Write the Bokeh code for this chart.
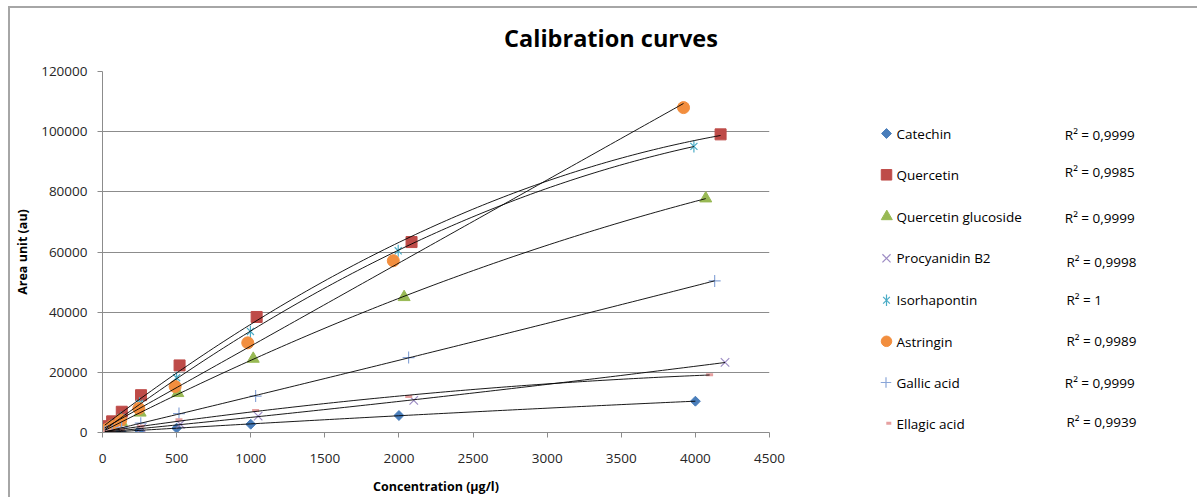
import numpy as np
from bokeh.plotting import figure
from bokeh.layouts import row, column
from bokeh.models import (Range1d, SingleIntervalTicker, BasicTickFormatter)
from bokeh.core.properties import value
from bokeh.embed import file_html
from bokeh.resources import INLINE

# ---------------- data ----------------
title_text = "Calibration curves"
names = ["Catechin", "Quercetin", "Quercetin glucoside", "Procyanidin B2",
         "Isorhapontin", "Astringin", "Gallic acid", "Ellagic acid"]
r2_texts = ["R² = 0,9999", "R² = 0,9985", "R² = 0,9999", "R² = 0,9998",
            "R² = 1", "R² = 0,9989", "R² = 0,9999", "R² = 0,9939"]

catechin_x = [31, 62, 125, 250, 500, 1000, 2000, 4000]
catechin_y = [90, 170, 340, 680, 1450, 2750, 5650, 10400]

quercetin_x = [16, 33, 65, 130, 260, 520, 1040, 2085, 4170]
quercetin_y = [1300, 2100, 3700, 6900, 12400, 22300, 38400, 63300, 99100]

qglucoside_x = [16, 32, 64, 127, 254, 508, 1017, 2035, 4070]
qglucoside_y = [500, 1000, 1900, 3500, 6600, 13100, 24500, 45000, 77800]

procyanidin_x = [16, 33, 66, 131, 263, 525, 1050, 2100, 4200]
procyanidin_y = [80, 170, 340, 680, 1350, 2750, 5450, 10700, 23300]

isorhapontin_x = [16, 31, 62, 125, 250, 500, 998, 1995, 3990]
isorhapontin_y = [700, 1300, 2500, 5000, 9700, 18200, 33600, 60400, 95100]

astringin_x = [15, 31, 61, 123, 245, 490, 980, 1962, 3920]
astringin_y = [600, 1100, 2100, 4100, 8000, 15300, 29800, 57100, 108000]

gallic_x = [16, 32, 65, 129, 258, 516, 1033, 2065, 4130]
gallic_y = [200, 400, 800, 1600, 3100, 6300, 12100, 24900, 50400]

ellagic_x = [16, 32, 64, 129, 258, 516, 1033, 2066, 4096]
ellagic_y = [150, 300, 550, 1100, 2100, 4200, 7300, 12000, 19200]

x_ticks_interval = 500
y_ticks_interval = 20000

# ---------------- styles ----------------
FONT = "Open Sans"
markers = ["square", "square", "triangle", "x", "x", "circle", "cross", "dash"]
angles = [np.pi / 4, 0, 0, 0, 0, 0, 0, 0]
colors = ["#4a7ebb", "#be4b48", "#98b954", "#9d8cc4", "#4bacc6", "#f28e3e", "#8aa6d8", "#e6a0a0"]
filled = [True, True, True, False, False, True, False, False]
plot_sizes = [7, 11, 12, 12, 10, 12, 12, 7]
legend_sizes = [7, 10.5, 11, 11.5, 9.5, 10.5, 10.5, 5]
line_widths = [1, 1, 1, 1.2, 1.2, 1, 1.2, 3]
fit_degree = [2, 2, 2, 2, 2, 1, 2, 2]

series_x = [catechin_x, quercetin_x, qglucoside_x, procyanidin_x,
            isorhapontin_x, astringin_x, gallic_x, ellagic_x]
series_y = [catechin_y, quercetin_y, qglucoside_y, procyanidin_y,
            isorhapontin_y, astringin_y, gallic_y, ellagic_y]

# ---------------- geometry (window pixels) ----------------
OX, OY = 10, 8                          # canvas origin (margin + border)
WIN_W, WIN_H = 1197, 497
SPLIT = 800                             # where the legend panel starts
TITLE_B = 61                            # bottom of the title strip
FL, FR, FT, FB = 102, 769, 71, 433      # plot frame edges
XMAX, YMAX = 4500, 120000


def blank(width, height, x0, x1, y0, y1):
    f = figure(width=width, height=height, output_backend="svg", toolbar_location=None,
               x_range=Range1d(x0, x1), y_range=Range1d(y1, y0),
               x_axis_location=None, y_axis_location=None,
               min_border=0, min_border_left=0, min_border_right=0,
               min_border_top=0, min_border_bottom=0)
    f.frame_align = False
    f.outline_line_color = None
    f.xgrid.grid_line_color = None
    f.ygrid.grid_line_color = None
    f.background_fill_color = "white"
    f.border_fill_color = "white"
    return f


# title strip
t = blank(SPLIT - OX, TITLE_B - OY, OX, SPLIT, OY, TITLE_B)
t.text(x=[610.5], y=[37], text=[title_text], text_font=value(FONT),
       text_font_size=value("23.5px"), text_font_style="bold", text_color="#000000",
       text_align="center", text_baseline="middle")

# main plot
p = figure(width=SPLIT - OX, height=WIN_H - TITLE_B, output_backend="svg", toolbar_location=None,
           x_range=Range1d(0, XMAX), y_range=Range1d(0, YMAX),
           min_border_left=FL - OX, min_border_right=SPLIT - FR,
           min_border_top=FT - TITLE_B, min_border_bottom=WIN_H - FB)
p.frame_align = False
p.outline_line_color = None
p.background_fill_color = "white"
p.border_fill_color = "white"

p.xgrid.grid_line_color = None
p.ygrid.grid_line_color = "#8c8c8c"
p.ygrid.grid_line_width = 1

for ax in (p.xaxis[0], p.yaxis[0]):
    ax.axis_line_color = "#8c8c8c"
    ax.major_tick_line_color = "#8c8c8c"
    ax.major_tick_out = 5
    ax.major_tick_in = 0
    ax.minor_tick_line_color = None
    ax.major_label_text_font = FONT
    ax.major_label_text_font_size = "13.5px"
    ax.major_label_text_color = "#262626"
    ax.axis_label_text_font = FONT
    ax.axis_label_text_font_size = "12.5px"
    ax.axis_label_text_font_style = "bold"
    ax.axis_label_text_color = "#000000"
    ax.formatter = BasicTickFormatter(use_scientific=False)

p.xaxis[0].ticker = SingleIntervalTicker(interval=x_ticks_interval)
p.yaxis[0].ticker = SingleIntervalTicker(interval=y_ticks_interval)
p.xaxis[0].axis_label = "Concentration (µg/l)"
p.yaxis[0].axis_label = "Area unit (au)"
p.xaxis[0].major_label_standoff = 16
p.xaxis[0].axis_label_standoff = 12
p.yaxis[0].major_label_standoff = 10
p.yaxis[0].axis_label_standoff = 7


def draw_marker(fig, x, y, i, size):
    kw = dict(marker=markers[i], angle=angles[i], size=size,
              line_color=colors[i], line_width=line_widths[i])
    kw["fill_color"] = colors[i] if filled[i] else None
    fig.scatter(x, y, **kw)
    if names[i] == "Isorhapontin":      # Excel "star": an x with a vertical stroke
        fig.scatter(x, y, marker="dash", angle=np.pi / 2, size=size * 1.2,
                    line_color=colors[i], line_width=line_widths[i])


for i in range(len(names)):
    draw_marker(p, series_x[i], series_y[i], i, plot_sizes[i])

# trendlines (least-squares fits, like Excel trendlines)
for i in range(len(names)):
    coef = np.polyfit(series_x[i], series_y[i], fit_degree[i])
    xs = np.linspace(min(series_x[i]), max(series_x[i]), 120)
    p.line(xs, np.polyval(coef, xs), line_color="#000000", line_width=1, line_alpha=0.9)

# legend panel (pixel space)
q = blank(WIN_W - SPLIT, WIN_H - OY, SPLIT, WIN_W, OY, WIN_H)

mark_x = [886, 886, 886.3, 886, 886, 886, 885.5, 888.3]
mark_y = [133.0, 174.3, 216.0, 257.8, 299.7, 340.8, 382.0, 422.7]
name_x = 896
name_mid = [133.8, 174.7, 216.5, 257.8, 299.7, 341.0, 382.7, 423.7]
r2_x = [1064.3, 1064.3, 1064.3, 1066, 1066, 1066, 1064.3, 1066]
r2_mid = [134.3, 171.0, 217.2, 261.2, 299.7, 340.2, 382.2, 421.5]

for i in range(len(names)):
    draw_marker(q, [mark_x[i]], [mark_y[i]], i, legend_sizes[i])

q.text(x=[name_x] * len(names), y=name_mid, text=names,
       text_font=value(FONT), text_font_size=value("13.5px"), text_color="#000000",
       text_align="left", text_baseline="middle")
q.text(x=r2_x, y=r2_mid, text=r2_texts,
       text_font=value(FONT), text_font_size=value("13.5px"), text_color="#000000",
       text_align="left", text_baseline="middle")

lay = row(column(t, p, spacing=0), q, spacing=0)
lay.styles = {"margin-left": "8px", "margin-top": "6px",
              "border-left": "2px solid #a6a6a6", "border-top": "2px solid #a6a6a6"}

open("out.html", "w").write(file_html(lay, INLINE))
